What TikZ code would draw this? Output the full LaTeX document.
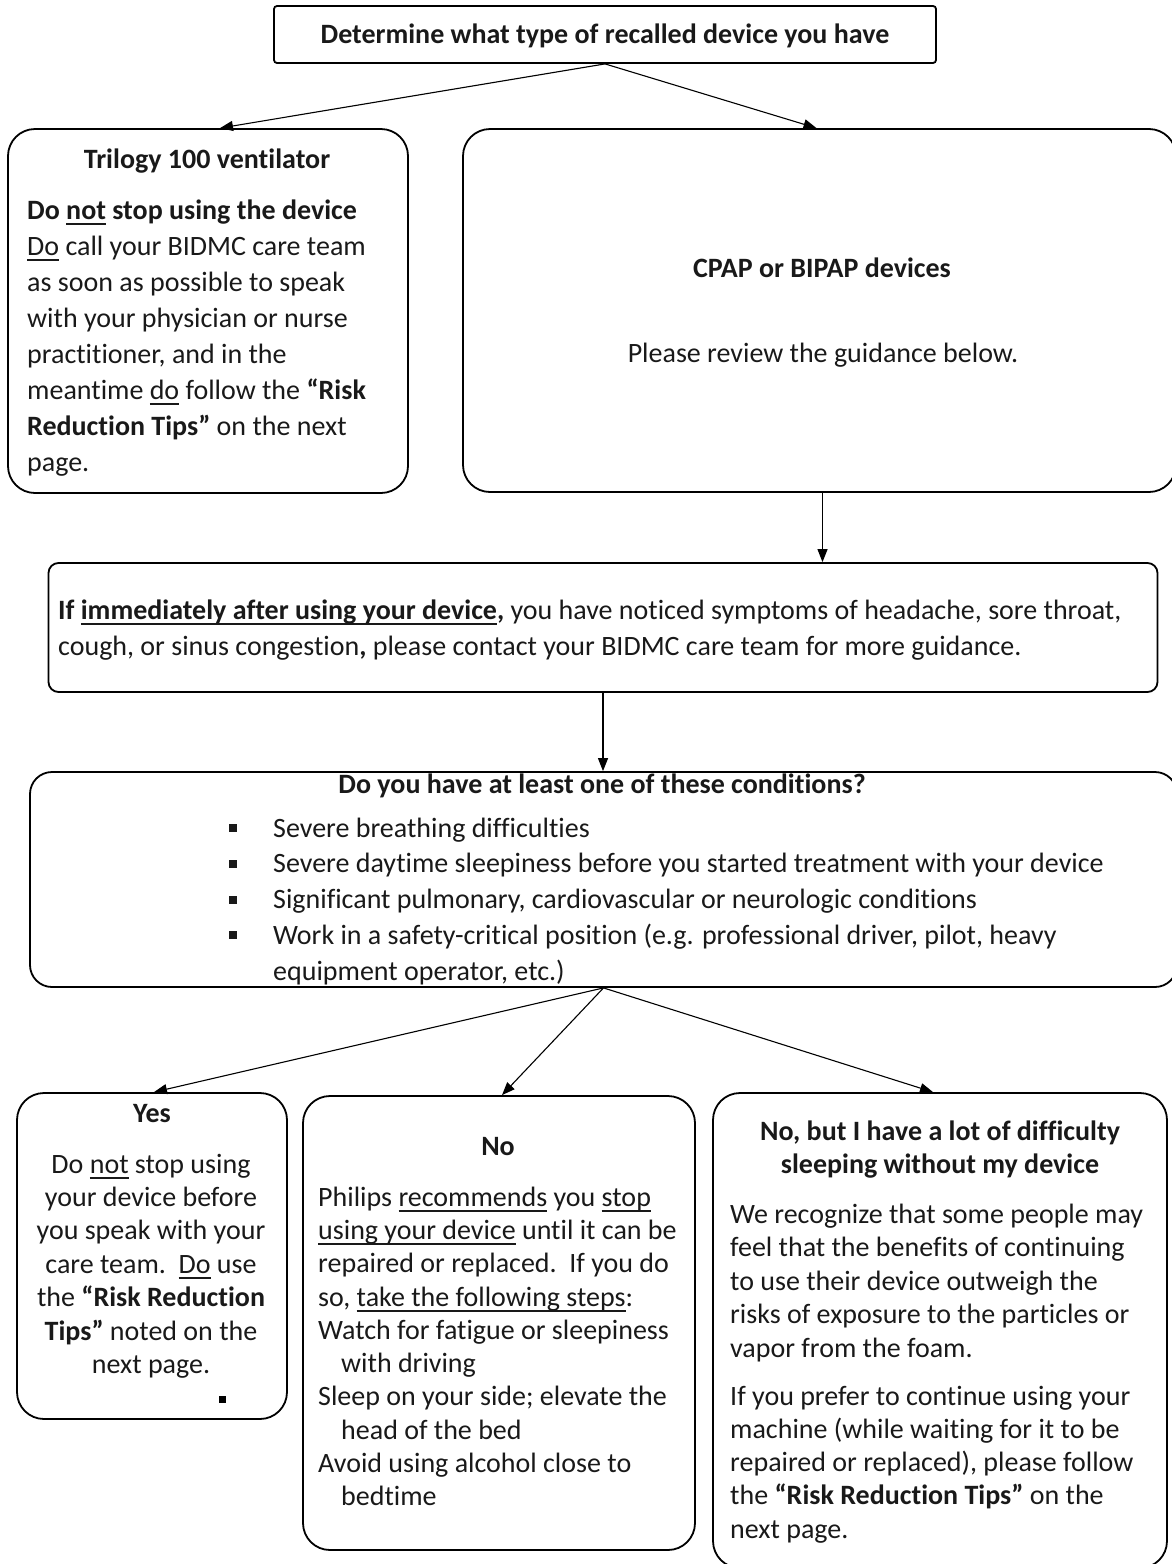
\documentclass[tikz,border=0pt]{standalone}
\usepackage{fontspec}
\setmainfont[Ligatures={NoCommon}]{Carlito}
\usetikzlibrary{arrows.meta}
\newcommand\txtL[2]{\vtop{\baselineskip=#1\lineskiplimit=-100pt\lineskip=0pt\halign{##\hfil\cr#2\crcr}}}
\newcommand\txtC[2]{\vtop{\baselineskip=#1\lineskiplimit=-100pt\lineskip=0pt\halign{\hfil##\hfil\cr#2\crcr}}}
\newcommand\myul[1]{\setbox0\hbox{#1}\rlap{\rule[-5.5pt]{\wd0}{1.7pt}}\box0\relax}
\newcommand\bul{\llap{\rule[5pt]{8pt}{8pt}\hskip36pt}}
\begin{document}
\begin{tikzpicture}[x=1pt,y=-1pt,
  box/.style={draw=black, line width=1.8pt, inner sep=0pt, rectangle},
  conn/.style={draw=black, line width=1.1pt, -{Triangle[length=13pt,width=10pt]}},
  txt/.style={inner sep=0pt, font=\fontsize{28pt}{36pt}\selectfont, text=black!90}]
\useasboundingbox (0,0) rectangle (1171,1564);

% boxes
\node[box, rounded corners=3pt, minimum width=662pt, minimum height=57pt] (top) at (605,34.5) {};
\node[box, rounded corners=27pt, minimum width=400pt, minimum height=364pt] (tril) at (208,311) {};
\node[box, rounded corners=27pt, minimum width=713pt, minimum height=363pt] (cpap) at (819.5,310.5) {};
\node[box, rounded corners=10pt, minimum width=1109pt, minimum height=129pt] (symp) at (603,627.5) {};
\node[box, rounded corners=22pt, minimum width=1147pt, minimum height=215pt] (cond) at (603.5,879.5) {};
\node[box, rounded corners=27pt, minimum width=270pt, minimum height=326pt] (yes) at (152,1256) {};
\node[box, rounded corners=27pt, minimum width=392pt, minimum height=454pt] (no) at (499,1323) {};
\node[box, rounded corners=27pt, minimum width=454pt, minimum height=475pt] (nobut) at (940,1330.5) {};

% texts
\node[txt, anchor=base] (topT) at (605,43) {\textbf{Determine what type of recalled device you have}};

\node[txt, anchor=base] (trilT) at (207,168) {\textbf{Trilogy 100 ventilator}};
\node[txt, anchor=base west] (trilB) at (27,219) {\txtL{36pt}{\textbf{Do \myul{not} stop using the device}\cr
\myul{Do} call your BIDMC care team\cr
as soon as possible to speak\cr
with your physician or nurse\cr
practitioner, and in the\cr
meantime \myul{do} follow the \textbf{“Risk}\cr
\textbf{Reduction Tips”} on the next\cr
page.}};

\node[txt, anchor=base] (cpapT) at (822,277) {\textbf{CPAP or BIPAP devices}};
\node[txt, anchor=base] (cpapB) at (823,362) {Please review the guidance below.};

\node[txt, anchor=base west] (sympB) at (58,619) {\txtL{36pt}{\textbf{If \myul{immediately after using your device},} you have noticed symptoms of headache, sore throat,\cr
cough, or sinus congestion\textbf{,} please contact your BIDMC care team for more guidance.}};

\node[txt, anchor=base] (condT) at (602,793) {\textbf{Do you have at least one of these conditions?}};
\node[txt, anchor=base west] (condB) at (273,837) {\txtL{35.75pt}{\bul Severe breathing difficulties\cr
\bul Severe daytime sleepiness before you started treatment with your device\cr
\bul Significant pulmonary, cardiovascular or neurologic conditions\cr
\bul Work in a safety-critical position (e.g. professional driver, pilot, heavy\cr
equipment operator, etc.)}};

\node[txt, anchor=base] (yesT) at (152,1122) {\textbf{Yes}};
\node[txt, anchor=base] (yesB) at (151,1173) {\txtC{33.4pt}{Do \myul{not} stop using\cr
your device before\cr
you speak with your\cr
care team.\ \ \myul{Do} use\cr
the \textbf{“Risk Reduction}\cr
\textbf{Tips”} noted on the\cr
next page.}};
\node[fill=black, inner sep=0pt, minimum size=7pt] (yesdot) at (222,1399) {};

\node[txt, anchor=base] (noT) at (498,1155) {\textbf{No}};
\node[txt, anchor=base west] (noB) at (318,1206) {\txtL{33.33pt}{Philips \myul{recommends} you \myul{stop}\cr
\myul{using your device} until it can be\cr
repaired or replaced.\ \ If you do\cr
so, \myul{take the following steps}:\cr
Watch for fatigue or sleepiness\cr
\hspace*{23pt}with driving\cr
Sleep on your side; elevate the\cr
\hspace*{23pt}head of the bed\cr
Avoid using alcohol close to\cr
\hspace*{23pt}bedtime}};

\node[txt, anchor=base] (nobutT) at (940,1140) {\txtC{33.3pt}{\textbf{No, but I have a lot of difficulty}\cr
\textbf{sleeping without my device}}};
\node[txt, anchor=base west] (nobutB1) at (730,1223) {\txtL{33.5pt}{We recognize that some people may\cr
feel that the benefits of continuing\cr
to use their device outweigh the\cr
risks of exposure to the particles or\cr
vapor from the foam.}};
\node[txt, anchor=base west] (nobutB2) at (730,1405) {\txtL{33.25pt}{If you prefer to continue using your\cr
machine (while waiting for it to be\cr
repaired or replaced), please follow\cr
the \textbf{“Risk Reduction Tips”} on the\cr
next page.}};

% connectors
\draw[conn] (top.south) -- ([xshift=12pt]tril.north);
\draw[conn] (top.south) -- ([xshift=-3pt]cpap.north);
\draw[conn] ([xshift=3pt]cpap.south) -- ([xshift=3pt]cpap.south |- symp.north);
\draw[conn] (symp.south) -- (symp.south |- cond.north);
\draw[conn] (cond.south) -- ([xshift=2pt]yes.north);
\draw[conn] (cond.south) -- ([xshift=3pt]no.north);
\draw[conn] (cond.south) -- ([xshift=-7pt]nobut.north);
\end{tikzpicture}
\end{document}
